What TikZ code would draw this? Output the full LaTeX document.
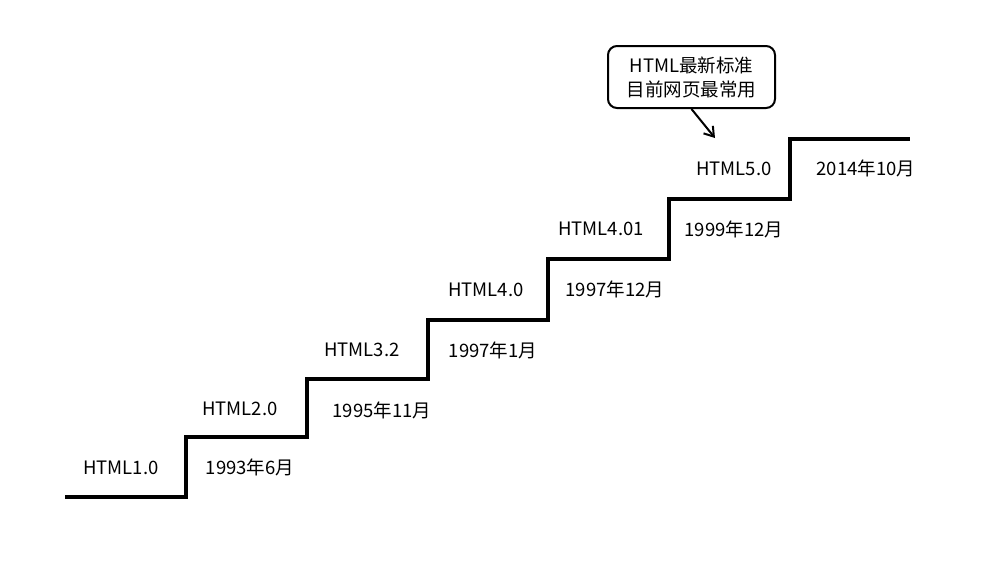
\documentclass[tikz,border=0pt]{standalone}
\usepackage{fontspec}
\setmainfont{Noto Sans CJK SC}
\usetikzlibrary{arrows.meta}
\begin{document}
\begin{tikzpicture}[x=1pt,y=-1pt,
  lbl/.style={font=\fontsize{18.5}{22}\selectfont, inner sep=0pt, anchor=center},
  stair/.style={line width=3.4pt, line join=miter},
  callout/.style={draw, line width=2pt, rounded corners=9pt, minimum width=167pt, minimum height=62pt, align=center, font=\fontsize{18.5}{24}\selectfont, inner sep=0pt},
  pointer/.style={line width=2pt, -{Straight Barb[length=9pt,width=12pt]}}]
\useasboundingbox (0,0) rectangle (989,566);
\coordinate (s0) at (65,497);
\coordinate (s1) at (186,497);
\coordinate (s2) at (186,437);
\coordinate (s3) at (307,437);
\coordinate (s4) at (307,379);
\coordinate (s5) at (428,379);
\coordinate (s6) at (428,320);
\coordinate (s7) at (548,320);
\coordinate (s8) at (548,259);
\coordinate (s9) at (669,259);
\coordinate (s10) at (669,199);
\coordinate (s11) at (790,199);
\coordinate (s12) at (790,139);
\coordinate (s13) at (910,139);
\draw[stair] (s0) -- (s1) -- (s2) -- (s3) -- (s4) -- (s5) -- (s6) -- (s7) -- (s8) -- (s9) -- (s10) -- (s11) -- (s12) -- (s13);
\node[lbl] (h1) at (121,468) {HTML1.0};
\node[lbl] (d1) at (250,467) {1993年6月};
\node[lbl] (h2) at (240,409) {HTML2.0};
\node[lbl] (d2) at (382,410) {1995年11月};
\node[lbl] (h3) at (362,350) {HTML3.2};
\node[lbl] (d3) at (493,350) {1997年1月};
\node[lbl] (h4) at (486,290) {HTML4.0};
\node[lbl] (d4) at (615,289) {1997年12月};
\node[lbl] (h5) at (601,229) {HTML4.01};
\node[lbl] (d5) at (734,229) {1999年12月};
\node[lbl] (h6) at (734,169) {HTML5.0};
\node[lbl] (d6) at (866,168) {2014年10月};
\node[callout] (c) at (691.5,77) {HTML最新标准\\目前网页最常用};
\coordinate (tip) at (715,138);
\draw[pointer] (c.south) -- (tip);
\end{tikzpicture}
\end{document}
